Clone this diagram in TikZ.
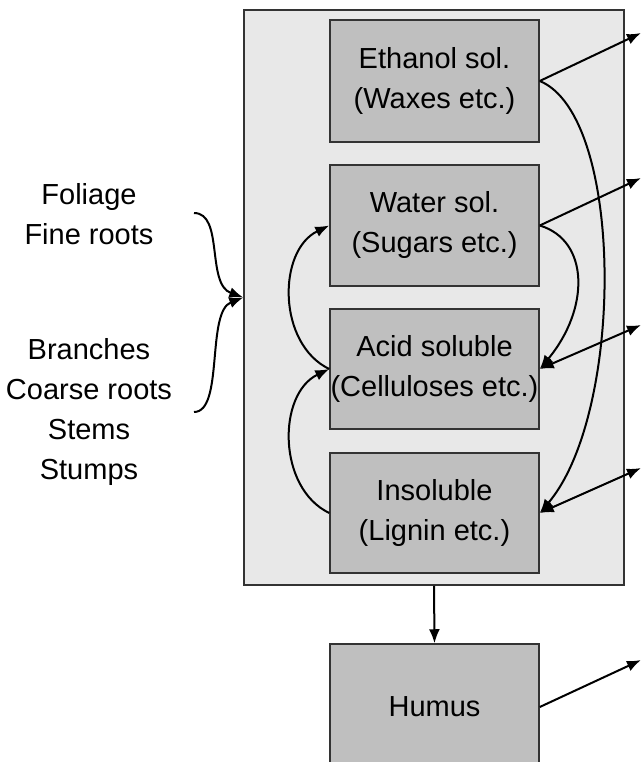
\documentclass[tikz,border=0pt]{standalone}
\usepackage{fontspec}
\setmainfont{Liberation Sans}
\usetikzlibrary{arrows.meta}

\begin{document}
\begin{tikzpicture}[x=1pt,y=-1pt,
  every node/.style={font=\fontsize{29}{40}\selectfont,align=center,inner sep=0pt},
  pool/.style={draw=black!80,fill=black!25,line width=1.5pt,minimum width=209pt},
  flow/.style={line width=2pt,-{Latex[length=14pt,width=11pt]}},
  both/.style={line width=2pt,{Latex[length=14pt,width=11pt]}-{Latex[length=14pt,width=11pt]}}]
\useasboundingbox (0,0) rectangle (644,762);
\clip (0,0) rectangle (644,762);
% litter pool and its fractions
\node [draw=black!80,fill=black!9,line width=1.5pt,minimum width=380pt,minimum height=575pt] (litter) at (434,297.5) {};
\node [pool,minimum height=122pt] (eth) at (434.5,81) {Ethanol sol.\\(Waxes etc.)};
\node [pool,minimum height=121pt] (wat) at (434.5,225.5) {Water sol.\\(Sugars etc.)};
\node [pool,minimum height=120pt] (acid) at (434.5,369) {Acid soluble\\(Celluloses etc.)};
\node [pool,minimum height=120pt] (ins) at (434.5,513) {Insoluble\\(Lignin etc.)};
\node [pool,minimum height=126pt] (hum) at (434.5,707) {Humus};
% inputs
\node (leafy) at (89,214) {Foliage\\Fine roots};
\node (woody) at (89,412) {Branches\\Coarse roots\\Stems\\Stumps};
\coordinate (fine) at (194,213);
\coordinate (coarse) at (194,412);
\draw [flow] (fine) .. controls (224,213) and (206,284) .. (litter.west);
\draw [flow] (coarse) .. controls (224,412) and (206,312) .. (litter.west);
% fluxes out
\coordinate (out1) at (641,33);
\coordinate (out2) at (641,178);
\coordinate (out3) at (641,325);
\coordinate (out4) at (641,468);
\coordinate (out5) at (641,660);
\draw [flow] (eth.east) -- (out1);
\draw [flow] (wat.east) -- (out2);
\draw [both] (acid.east) -- (out3);
\draw [both] (ins.east) -- (out4);
\draw [flow] (hum.east) -- (out5);
% transfers between fractions
\draw [flow] (eth.east) .. controls +(85,35) and +(85,-100) .. (ins.east);
\draw [flow] (wat.east) .. controls +(50,15) and +(50,-60) .. (acid.east);
\draw [flow] (acid.west) .. controls +(-52,-25) and +(-52,25) .. (wat.west);
\draw [flow] (ins.west) .. controls +(-52,-25) and +(-52,25) .. (acid.west);
\draw [flow] (litter.south) -- (hum.north);
\end{tikzpicture}
\end{document}
